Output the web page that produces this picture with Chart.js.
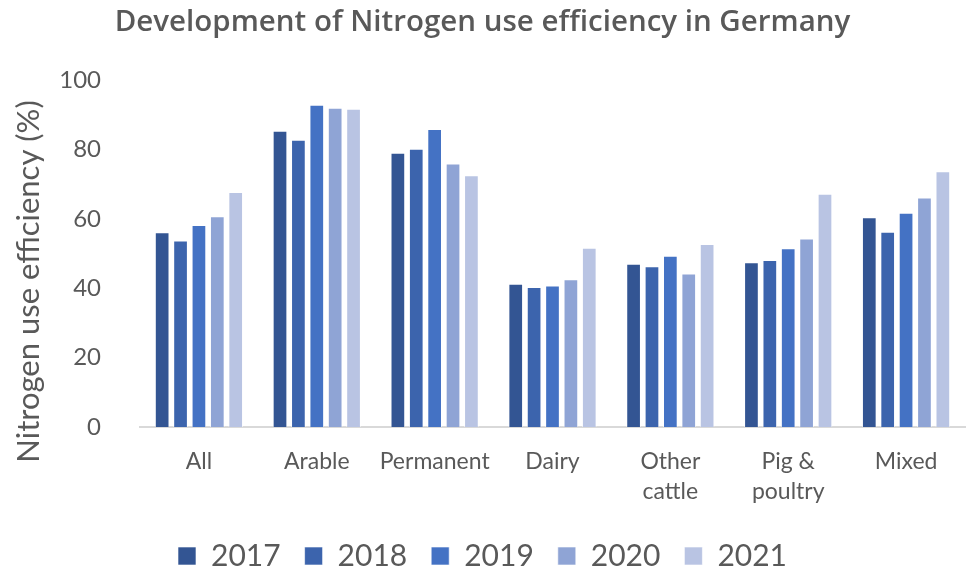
<!DOCTYPE html>
<html>
<head>
<meta charset="utf-8">
<script src="https://cdn.jsdelivr.net/npm/chart.js@4/dist/chart.umd.min.js"></script>
<style>
  html, body { margin: 0; padding: 0; background: #fff; }
  #wrap { width: 969px; height: 567px; }
</style>
</head>
<body>
<div id="wrap"><canvas id="chart"></canvas></div>
<script>
const categories = ['All', 'Arable', 'Permanent', 'Dairy', ['Other', 'cattle'], ['Pig &', 'poultry'], 'Mixed'];
const years = ['2017', '2018', '2019', '2020', '2021'];
const values2017 = [56.2, 85.5, 79.1, 41.3, 47.1, 47.5, 60.5];
const values2018 = [53.8, 82.9, 80.3, 40.4, 46.4, 48.2, 56.3];
const values2019 = [58.3, 93.0, 86.0, 40.8, 49.4, 51.6, 61.8];
const values2020 = [60.8, 92.1, 76.0, 42.6, 44.3, 54.4, 66.2];
const values2021 = [67.8, 91.8, 72.6, 51.7, 52.8, 67.3, 73.8];
const yTicks = [0, 20, 40, 60, 80, 100];

const colors = ['#335593', '#3C64AD', '#4472C4', '#8FA4D5', '#B9C4E3'];
const textColor = '#595959';

const series = [values2017, values2018, values2019, values2020, values2021];

const datasets = years.map((year, i) => ({
  label: year,
  data: series[i],
  backgroundColor: colors[i],
  borderColor: 'rgba(255,255,255,0.6)',
  borderWidth: 1,
  barPercentage: 0.8,
  categoryPercentage: 0.78,
}));

new Chart(document.getElementById('chart'), {
  type: 'bar',
  data: { labels: categories, datasets },
  options: {
    responsive: true,
    maintainAspectRatio: false,
    animation: false,
    layout: { padding: { left: 0, right: 4, top: 0, bottom: -14 } },
    plugins: {
      title: {
        display: true,
        text: 'Development of Nitrogen use efficiency in Germany',
        color: textColor,
        font: { family: 'Open Sans', size: 29.5, weight: '600' },
        padding: { top: 5, bottom: 40 },
      },
      legend: {
        position: 'bottom',
        labels: {
          color: textColor,
          font: { family: 'Lato', size: 30, lineHeight: 1 },
          boxWidth: 18,
          boxHeight: 18,
          padding: 24,
        },
      },
      tooltip: { enabled: false },
    },
    scales: {
      x: {
        afterFit: (axis) => { axis.height = 90; },
        grid: { display: false },
        border: { display: true, color: '#D9D9D9', width: 2 },
        ticks: {
          color: textColor,
          font: { family: 'Lato', size: 23, lineHeight: 1.3 },
          padding: 12,
          maxRotation: 0,
          autoSkip: false,
        },
      },
      y: {
        min: 0,
        max: 100,
        afterBuildTicks: (axis) => {
          axis.ticks = yTicks.map((v) => ({ value: v }));
        },
        afterFit: (axis) => { axis.width = 140; },
        grid: { display: false },
        border: { display: false },
        ticks: {
          color: textColor,
          font: { family: 'Lato', size: 24 },
          padding: 31,
        },
        title: {
          display: true,
          // trailing spaces push the label a bit lower, as in the original
          text: 'Nitrogen use efficiency (%)       ',
          color: textColor,
          font: { family: 'Lato', size: 31 },
          padding: { top: 10, bottom: 0 },
        },
      },
    },
  },
});
</script>
</body>
</html>
